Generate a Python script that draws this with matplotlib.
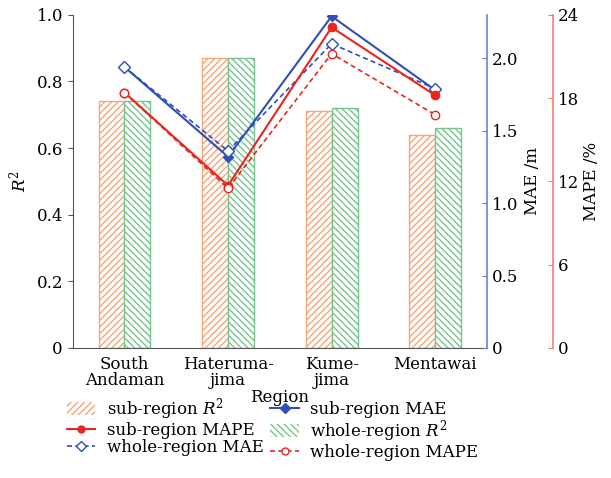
import numpy as np
import matplotlib.pyplot as plt
from matplotlib.lines import Line2D
from matplotlib.patches import Patch

plt.rcParams['font.family'] = 'DejaVu Serif'
plt.rcParams['mathtext.fontset'] = 'dejavuserif'
plt.rcParams['hatch.linewidth'] = 1.0

regions = ['South\nAndaman', 'Hateruma-\njima', 'Kume-\njima', 'Mentawai']
sub_r2 = [0.74, 0.87, 0.71, 0.64]
whole_r2 = [0.74, 0.87, 0.72, 0.66]
sub_mae = [1.94, 1.32, 2.29, 1.78]
whole_mae = [1.94, 1.36, 2.10, 1.79]
sub_mape = [18.4, 11.7, 23.1, 18.2]
whole_mape = [18.4, 11.5, 21.2, 16.8]

orange = '#f7a676'
green = '#78c48f'
blue = '#2f4fb5'
red = '#e8251f'
blue_sp = '#6f7fd0'
red_sp = '#f5826f'

fig = plt.figure(figsize=(6.11, 4.78), dpi=100)
ax = fig.add_axes([0.119, 0.272, 0.678, 0.697])
x = np.arange(len(regions))
w = 0.25
ax.bar(x - w / 2, sub_r2, w, facecolor='white', edgecolor=orange, hatch='/////', linewidth=1.0)
ax.bar(x + w / 2, whole_r2, w, facecolor='white', edgecolor=green, hatch='\\\\\\\\\\', linewidth=1.0)
ax.set_xlim(-0.5, 3.5)
ax.set_ylim(0, 1.0)
ax.set_yticks([0, 0.2, 0.4, 0.6, 0.8, 1.0])
ax.set_yticklabels(['0', '0.2', '0.4', '0.6', '0.8', '1.0'])
ax.set_xticks(x)
ax.set_xticklabels(regions, linespacing=0.9)
ax.tick_params(axis='x', length=0, labelsize=12, pad=6)
ax.tick_params(axis='y', labelsize=12, color='#555555')
ax.set_ylabel('$R^2$', fontsize=12, labelpad=5)
ax.set_xlabel('Region', fontsize=12, labelpad=0)
ax.spines['top'].set_visible(False)
ax.spines['right'].set_visible(False)
ax.spines['left'].set_color('#555555')
ax.spines['bottom'].set_color('#555555')

ax2 = ax.twinx()
ax2.plot(x, sub_mae, '-', color=blue, marker='D', markersize=5, lw=1.5)
ax2.plot(x, whole_mae, '--', color=blue, marker='D', markersize=6, lw=1.2,
         markerfacecolor='white', dashes=(3, 2))
ax2.set_ylim(0, 2.3)
ax2.set_yticks([0, 0.5, 1.0, 1.5, 2.0])
ax2.set_yticklabels(['0', '0.5', '1.0', '1.5', '2.0'])
ax2.tick_params(axis='y', direction='in', labelsize=12, color=blue_sp)
ax2.set_ylabel('MAE /m', fontsize=12, labelpad=4)
for s in ['top', 'left', 'bottom']:
    ax2.spines[s].set_visible(False)
ax2.spines['right'].set_color(blue_sp)
ax2.spines['right'].set_linewidth(1.2)

ax3 = ax.twinx()
ax3.plot(x, sub_mape, '-', color=red, marker='o', markersize=6, lw=1.5)
ax3.plot(x, whole_mape, '--', color=red, marker='o', markersize=6, lw=1.2,
         markerfacecolor='white', dashes=(3, 2))
ax3.spines['right'].set_position(('axes', 1.159))
ax3.set_ylim(0, 24)
ax3.set_yticks([0, 6, 12, 18, 24])
ax3.tick_params(axis='y', direction='in', labelsize=12, color=red_sp)
ax3.set_ylabel('MAPE /%', fontsize=12, labelpad=3)
for s in ['top', 'left', 'bottom']:
    ax3.spines[s].set_visible(False)
ax3.spines['right'].set_color(red_sp)
ax3.spines['right'].set_linewidth(1.2)

handles = [
    Patch(facecolor='white', edgecolor=orange, hatch='/////', linewidth=0),
    Line2D([], [], color=red, marker='o', markersize=5, lw=1.5),
    Line2D([], [], color=blue, marker='D', markersize=5, lw=1.2, ls='--', markerfacecolor='white', dashes=(3, 2)),
    Line2D([], [], color=blue, marker='D', markersize=5, lw=1.5),
    Patch(facecolor='white', edgecolor=green, hatch='\\\\\\\\\\', linewidth=0),
    Line2D([], [], color=red, marker='o', markersize=5, lw=1.2, ls='--', markerfacecolor='white', dashes=(3, 2)),
]
labels = ['sub-region $R^2$', 'sub-region MAPE', 'whole-region MAE',
          'sub-region MAE', 'whole-region $R^2$', 'whole-region MAPE']
fig.legend(handles, labels, ncol=2, loc='lower left', bbox_to_anchor=(0.085, 0.004),
           frameon=False, fontsize=12, handlelength=1.7, handleheight=0.8,
           columnspacing=0.4, labelspacing=0.0, handletextpad=0.7)

fig.savefig('out.png', dpi=100)
